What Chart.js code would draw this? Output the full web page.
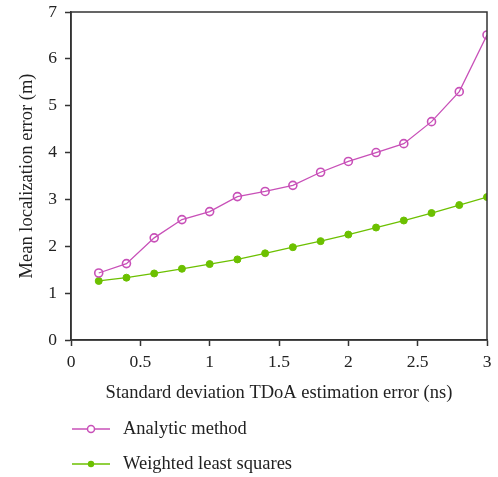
<!DOCTYPE html>
<html>
<head>
<meta charset="utf-8">
<script src="https://cdn.jsdelivr.net/npm/chart.js@4.4.0/dist/chart.umd.min.js"></script>
<style>
    html, body { margin: 0; padding: 0; background: #fff; }
    #wrap { position: relative; width: 498px; height: 477px; }
    #legend { position: absolute; left: 72px; top: 411px; font-family: "Liberation Serif", serif; font-size: 18.5px; color: #222; }
    .item { display: flex; align-items: center; height: 35px; }
    .item svg { margin-right: 13px; }
</style>
</head>
<body>
<div id="wrap">
    <canvas id="chart" width="498" height="477"></canvas>
    <div id="legend"></div>
</div>
<script>
const xValues = [0.2, 0.4, 0.6, 0.8, 1.0, 1.2, 1.4, 1.6, 1.8, 2.0, 2.2, 2.4, 2.6, 2.8, 3.0];
const analytic = [1.43, 1.63, 2.18, 2.57, 2.74, 3.06, 3.17, 3.30, 3.58, 3.81, 4.00, 4.19, 4.66, 5.30, 6.51];
const weighted = [1.26, 1.33, 1.42, 1.52, 1.62, 1.72, 1.85, 1.98, 2.11, 2.25, 2.40, 2.55, 2.71, 2.88, 3.05];
const xTicks = [0, 0.5, 1, 1.5, 2, 2.5, 3];
const seriesNames = ['Analytic method', 'Weighted least squares'];

const magenta = '#c850b8';
const green = '#6cc000';
const axisColor = '#333';
const font = 'Liberation Serif';

const toPoints = (ys) => xValues.map((x, i) => ({ x: x, y: ys[i] }));

// box around the plot area (top and right edges)
const frame = {
    id: 'frame',
    afterDraw(chart) {
        const { ctx, chartArea: a } = chart;
        ctx.save();
        ctx.strokeStyle = axisColor;
        ctx.lineWidth = 1.5;
        ctx.strokeRect(a.left, a.top, a.right - a.left, a.bottom - a.top);
        ctx.restore();
    }
};

new Chart(document.getElementById('chart').getContext('2d'), {
    type: 'line',
    data: {
        datasets: [{
            label: seriesNames[0],
            data: toPoints(analytic),
            borderColor: magenta,
            backgroundColor: '#fff',
            borderWidth: 1.3,
            pointRadius: 4,
            pointBorderWidth: 1.6,
            pointBorderColor: magenta,
            pointBackgroundColor: 'rgba(255,255,255,0)',
            tension: 0
        }, {
            label: seriesNames[1],
            data: toPoints(weighted),
            borderColor: green,
            backgroundColor: green,
            borderWidth: 1.3,
            pointRadius: 3.5,
            pointBorderWidth: 1,
            pointBorderColor: green,
            pointBackgroundColor: green,
            tension: 0
        }]
    },
    options: {
        responsive: false,
        animation: false,
        layout: { padding: { top: 12, right: 11, bottom: 71, left: 0 } },
        plugins: { legend: { display: false }, tooltip: { enabled: false } },
        scales: {
            x: {
                type: 'linear',
                min: 0,
                max: 3,
                afterBuildTicks: (s) => { s.ticks = xTicks.map(v => ({ value: v })); },
                afterFit: (s) => { s.height = 66; },
                grid: { drawOnChartArea: false, tickLength: 6, tickColor: axisColor, tickWidth: 1.5 },
                border: { color: axisColor, width: 1.5 },
                ticks: {
                    color: '#222',
                    font: { family: font, size: 17.5 },
                    padding: 6,
                    maxRotation: 0,
                    callback: (v) => String(v)
                },
                title: {
                    display: true,
                    text: 'Standard deviation TDoA estimation error (ns)',
                    color: '#222',
                    font: { family: font, size: 18.5 },
                    padding: { top: 0, bottom: 2 }
                }
            },
            y: {
                min: 0,
                max: 7,
                afterFit: (s) => { s.width = 71; s.paddingTop = 0; s.paddingBottom = 0; },
                grid: { drawOnChartArea: false, tickLength: 6, tickColor: axisColor, tickWidth: 1.5 },
                border: { color: axisColor, width: 1.5 },
                ticks: { stepSize: 1, color: '#222', font: { family: font, size: 17.5 }, padding: 8 },
                title: {
                    display: true,
                    text: 'Mean localization error (m)',
                    color: '#222',
                    font: { family: font, size: 18.5 },
                    padding: { top: 16, bottom: 0 }
                }
            }
        }
    },
    plugins: [frame]
});

// legend below the chart, stacked
const legendEl = document.getElementById('legend');
const legendMarks = [
    '<circle cx="19" cy="6" r="3.5" fill="#fff" stroke="' + magenta + '" stroke-width="1.5"/>',
    '<circle cx="19" cy="6" r="3.2" fill="' + green + '"/>'
];
const legendColors = [magenta, green];
seriesNames.forEach((name, i) => {
    const div = document.createElement('div');
    div.className = 'item';
    div.innerHTML = '<svg width="38" height="12"><line x1="0" y1="6" x2="38" y2="6" stroke="' +
        legendColors[i] + '" stroke-width="1.5"/>' + legendMarks[i] + '</svg><span>' + name + '</span>';
    legendEl.appendChild(div);
});
</script>
</body>
</html>
